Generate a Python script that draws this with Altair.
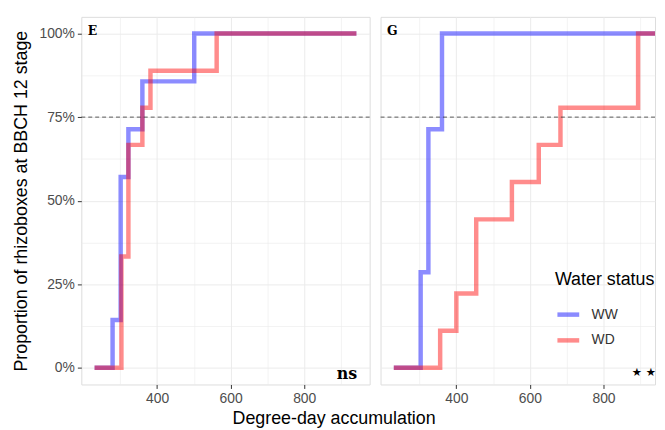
import altair as alt
import pandas as pd

# ---- data ----
status = ["WW", "WD"]
status_colors = ["#0000ff", "#ff0000"]

E_WW_dd = [230, 279, 301, 322, 360, 501, 942]
E_WW_prop = [0.0, 0.143, 0.571, 0.714, 0.857, 1.0, 1.0]
E_WD_dd = [230, 303, 322, 360, 382, 562, 942]
E_WD_prop = [0.0, 0.333, 0.667, 0.778, 0.889, 1.0, 1.0]

G_WW_dd = [230, 303, 324, 361, 942]
G_WW_prop = [0.0, 0.286, 0.714, 1.0, 1.0]
G_WD_dd = [230, 356, 400, 454, 551, 624, 683, 894, 942]
G_WD_prop = [0.0, 0.111, 0.222, 0.444, 0.556, 0.667, 0.778, 1.0, 1.0]

x_grid = [300, 400, 500, 600, 700, 800, 900]
y_grid = [0, 0.125, 0.25, 0.375, 0.5, 0.625, 0.75, 0.875, 1.0]
x_domain_left = [194, 978]
x_domain_right = [194, 940]   # right panel is cut off by the picture's edge
y_domain = [-0.05, 1.05]
threshold = [0.75]

panel_tags = ["E", "G"]
sig_tags = ["ns", "\u2605 \u2605"]

FONT = "Liberation Sans"
H = 371


def make_df(ww_x, ww_y, wd_x, wd_y):
    return pd.DataFrame({
        "dd": ww_x + wd_x,
        "prop": ww_y + wd_y,
        "status": ["WW"] * len(ww_x) + ["WD"] * len(wd_x),
    })


def panel(df, tag, sig, sig_size, sig_font, sig_dx, sig_dy, first, x_domain, width):
    maj = "datum.value % 200 == 0"
    x_axis = alt.Axis(
        values=x_grid, labelExpr=f"{maj} ? datum.label : ''",
        tickOpacity={"condition": {"test": maj, "value": 1}, "value": 0},
        gridWidth={"condition": {"test": maj, "value": 1}, "value": 0.6},
        gridColor="#ebebeb", tickColor="#333333", tickSize=4, labelPadding=3,
        labelFontSize=14, labelColor="#4d4d4d", labelFont=FONT, domain=False, title=None,
    )
    ymaj = "(datum.value * 4) % 1 == 0"
    if first:
        y_axis = alt.Axis(
            values=y_grid, labelExpr=f"{ymaj} ? format(datum.value, '.0%') : ''",
            tickOpacity={"condition": {"test": ymaj, "value": 1}, "value": 0},
            gridWidth={"condition": {"test": ymaj, "value": 1}, "value": 0.6},
            gridColor="#ebebeb", tickColor="#333333", tickSize=4, labelPadding=3,
            labelFontSize=14, labelColor="#4d4d4d", labelFont=FONT, domain=False,
            title="Proportion of rhizoboxes at BBCH 12 stage", titleFontSize=18,
            titleFont=FONT, titleFontWeight="normal", titleColor="#000000", titlePadding=9,
        )
    else:
        y_axis = alt.Axis(
            values=y_grid, labels=False, ticks=False, domain=False, title=None,
            gridWidth={"condition": {"test": ymaj, "value": 1}, "value": 0.6},
            gridColor="#ebebeb",
        )

    xs = alt.Scale(domain=x_domain, nice=False, zero=False)
    ys = alt.Scale(domain=y_domain, nice=False, zero=False)
    if first:
        leg = None
    else:
        leg = alt.Legend(
            orient="none", legendX=176, legendY=257, title="Water status",
            titleFontSize=18, titleFont=FONT, titleFontWeight="normal", titleColor="#000000",
            titlePadding=12, labelFontSize=14, labelFont=FONT, labelColor="#333333",
            labelOffset=10, symbolType="stroke", symbolSize=484, symbolStrokeWidth=4.5,
            symbolOpacity=0.45, rowPadding=3, padding=0,
        )
    color = alt.Color("status:N", scale=alt.Scale(domain=status, range=status_colors), legend=leg)

    base = alt.Chart(df)
    layers = []
    for s in status:
        layers.append(
            base.transform_filter(alt.datum.status == s).mark_line(
                interpolate="step-after", strokeWidth=4.5, opacity=0.45, clip=True, strokeCap="butt"
            ).encode(x=alt.X("dd:Q", scale=xs, axis=x_axis),
                     y=alt.Y("prop:Q", scale=ys, axis=y_axis),
                     color=color)
        )
    rule = alt.Chart(pd.DataFrame({"y": threshold})).mark_rule(
        strokeDash=[4, 3], color="#333333", strokeWidth=0.8
    ).encode(y=alt.Y("y:Q", scale=ys))
    tag_df = pd.DataFrame({"x": [x_domain[0]], "y": [1.0], "t": [tag]})
    tag_text = alt.Chart(tag_df).mark_text(
        align="left", baseline="middle", dx=6.5, dy=-3, font="DejaVu Serif",
        fontWeight="bold", fontSize=12.5, color="#000000"
    ).encode(x=alt.X("x:Q", scale=xs), y=alt.Y("y:Q", scale=ys), text="t:N")
    sig_df = pd.DataFrame({"x": [x_domain[1]], "y": [0.0], "t": [sig]})
    sig_text = alt.Chart(sig_df).mark_text(
        align="right", baseline="alphabetic", dx=sig_dx, dy=sig_dy, font=sig_font,
        fontWeight="bold", fontSize=sig_size, color="#000000"
    ).encode(x=alt.X("x:Q", scale=xs), y=alt.Y("y:Q", scale=ys), text="t:N")

    return alt.layer(*layers, rule, tag_text, sig_text).properties(width=width, height=H)


left = panel(make_df(E_WW_dd, E_WW_prop, E_WD_dd, E_WD_prop), panel_tags[0], sig_tags[0],
             16, "DejaVu Serif", -12.5, 11, True, x_domain_left, 291)
right = panel(make_df(G_WW_dd, G_WW_prop, G_WD_dd, G_WD_prop), panel_tags[1], sig_tags[1],
              11.5, "DejaVu Sans", 1, 8.5, False, x_domain_right, 277)

chart = alt.hconcat(left, right, spacing=9).resolve_scale(
    color="independent", x="independent", y="independent"
).resolve_legend(color="independent").properties(
    title=alt.TitleParams("Degree-day accumulation", orient="bottom", anchor="middle",
                          fontSize=18, font=FONT, fontWeight="normal", color="#000000", offset=4),
    padding={"left": 3, "top": 6, "right": 0, "bottom": 0},
).configure_view(stroke="#333333", strokeWidth=1).configure(background="white")

chart.save("out.html", embed_options={"renderer": "svg", "actions": False})
